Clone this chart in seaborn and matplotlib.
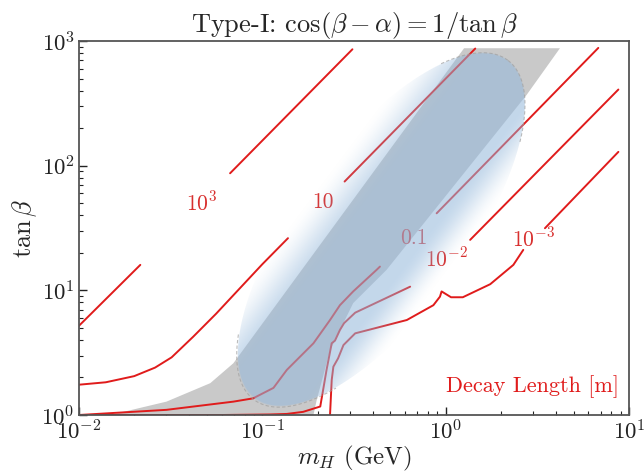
import numpy as np
import matplotlib
matplotlib.use("Agg")
import matplotlib.pyplot as plt
import seaborn as sns
import pandas as pd
from matplotlib.colors import LinearSegmentedColormap
from matplotlib.ticker import LogLocator, NullFormatter

# ---------------- data ----------------
# decay-length contours [m]; each contour is split where its label sits
c1e3_lo_x = [0.01, 0.0216]
c1e3_lo_y = [5.2, 16.0]
c1e3_hi_x = [0.0667, 0.31]
c1e3_hi_y = [86.9, 858.0]

c10_lo_x = [0.01, 0.014, 0.02, 0.026, 0.032, 0.042, 0.056, 0.075, 0.10, 0.138]
c10_lo_y = [1.75, 1.83, 2.05, 2.4, 2.9, 4.25, 6.5, 10.3, 16.2, 26.2]
c10_hi_x = [0.281, 1.45]
c10_hi_y = [74.6, 870.0]

c01_lo_x = [0.01, 0.03, 0.0695, 0.089, 0.115, 0.136, 0.19, 0.234, 0.265, 0.313, 0.42, 0.438]
c01_lo_y = [1.0, 1.10, 1.28, 1.36, 1.65, 2.30, 3.76, 5.78, 7.6, 9.8, 14.6, 15.5]
c01_hi_x = [0.893, 6.8]
c01_hi_y = [41.5, 880.0]

c1em2_lo_x = [0.01, 0.06, 0.11, 0.136, 0.167, 0.207, 0.224, 0.239, 0.249, 0.265, 0.279, 0.321, 0.64]
c1em2_lo_y = [1.0, 1.0, 1.01, 1.02, 1.06, 1.17, 2.30, 3.76, 3.95, 4.81, 5.45, 6.62, 10.7]
c1em2_hi_x = [1.36, 8.75]
c1em2_hi_y = [25.4, 408.0]

c1em3_lo_x = [0.234, 0.239, 0.244, 0.259, 0.277, 0.321, 0.614, 0.857, 0.931, 0.95, 1.07, 1.24, 1.75, 2.34, 2.65]
c1em3_lo_y = [1.0, 1.91, 2.44, 2.85, 3.64, 4.52, 5.78, 7.6, 8.9, 9.8, 8.8, 8.8, 11.2, 16.0, 21.1]
c1em3_hi_x = [3.48, 8.75]
c1em3_hi_y = [31.5, 129.0]

contour_labels = [r"$10^{3}$", "10", "0.1", r"$10^{-2}$", r"$10^{-3}$"]
label_x = [0.0467, 0.215, 0.667, 1.01, 3.0]
label_y = [50.8, 50.8, 26.2, 18.1, 26.2]

# grey excluded band (polygon: left edge upwards, then right edge downwards)
grey_x = [0.0148, 0.030, 0.052, 0.0695, 1.26, 4.2, 2.77, 0.476, 0.313, 0.234, 0.198, 0.19]
grey_y = [1.0, 1.28, 1.8, 2.6, 875.0, 875.0, 371.0, 14.6, 7.9, 3.3, 1.32, 1.0]

# blue (blurred) elliptical region: centre (GeV, tan beta), semi-axes in decades
blue_center = [0.443, 30.5]
blue_semi_decades = [1.156, 0.465]   # along major / minor axis (screen-decade units)
blue_angle_deg = 53.2

xlim = [1e-2, 1e1]
ylim = [1e0, 1e3]

# ---------------- style ----------------
sns.set_style("ticks")
plt.rcParams["font.family"] = ["cmr10", "DejaVu Serif"]
plt.rcParams["mathtext.fontset"] = "cm"
plt.rcParams["axes.unicode_minus"] = False
plt.rcParams["axes.formatter.use_mathtext"] = True

RED = "#e01b1b"
LAB_RED = "#d8302f"

fig = plt.figure(figsize=(6.44, 4.73), dpi=100)
ax = fig.add_axes([79/644, 1-415/473, 550/644, 374/473])
ax.set_xscale("log")
ax.set_yscale("log")
ax.set_xlim(*xlim)
ax.set_ylim(*ylim)

# grey band
ax.fill(grey_x, grey_y, color="#c9c9c9", lw=0, zorder=1)

# contours
segs = [(c1e3_lo_x, c1e3_lo_y), (c1e3_hi_x, c1e3_hi_y),
        (c10_lo_x, c10_lo_y), (c10_hi_x, c10_hi_y),
        (c01_lo_x, c01_lo_y), (c01_hi_x, c01_hi_y),
        (c1em2_lo_x, c1em2_lo_y), (c1em2_hi_x, c1em2_hi_y),
        (c1em3_lo_x, c1em3_lo_y), (c1em3_hi_x, c1em3_hi_y)]
for sx, sy in segs:
    df = pd.DataFrame({"m": sx, "t": sy})
    sns.lineplot(data=df, x="m", y="t", sort=False, estimator=None, ax=ax,
                 color=RED, lw=1.4, zorder=2)

for lab, lx_, ly_ in zip(contour_labels, label_x, label_y):
    ax.text(lx_, ly_, lab, color=LAB_RED, fontsize=15.5, ha="center", va="center", zorder=2.5)

# blue blurred region via pcolormesh on a log grid (work in screen pixels)
PXU = 550 / 3.0   # pixels per decade in x
PXV = 374 / 3.0   # pixels per decade in y
PXS = 183.33      # pixel scale used for the ellipse semi-axes
lgx = np.linspace(-2, 1, 551)
lgy = np.linspace(0, 3, 375)
LX, LY = np.meshgrid(lgx, lgy)
U = (LX + 2) * PXU
V = LY * PXV

cu = (np.log10(blue_center[0]) + 2) * PXU
cv = np.log10(blue_center[1]) * PXV
ea = blue_semi_decades[0] * PXS
eb = blue_semi_decades[1] * PXS
th = np.deg2rad(blue_angle_deg)
e1 = np.array([np.cos(th), np.sin(th)])
e2 = np.array([-np.sin(th), np.cos(th)])

def smooth(z):
    z = np.clip(z, 0, 1)
    return z * z * (3 - 2 * z)

def blue_alpha(U, V):
    du, dv = U - cu, V - cv
    p = du * e1[0] + dv * e1[1]
    w = du * e2[0] + dv * e2[1]
    rho = np.sqrt((p / ea) ** 2 + (w / eb) ** 2)
    inside = np.clip((1 - rho) * 120, 0, 1)
    # soft fades towards upper-left and lower-right (measured across the band)
    f_ul = smooth((0.90 * eb - w) / 50.0)
    f_lr = smooth((w + 0.92 * eb) / 40.0)
    return inside * f_ul * f_lr

A = blue_alpha(U, V)
bc = (0.58, 0.72, 0.86)
cmap = LinearSegmentedColormap.from_list("blu", [bc + (0.0,), bc + (0.56,)])
ax.pcolormesh(10**LX, 10**LY, A, cmap=cmap, vmin=0, vmax=1, shading="nearest",
              edgecolors="none", antialiased=False, zorder=3, rasterized=True)

# dashed outline of the ellipse where the blue is visible
tt = np.linspace(0, 2*np.pi, 1500)
Pu = cu + ea*np.cos(tt)*e1[0] + eb*np.sin(tt)*e2[0]
Pv = cv + ea*np.cos(tt)*e1[1] + eb*np.sin(tt)*e2[1]
inner = blue_alpha(cu + (Pu - cu) * 0.97, cv + (Pv - cv) * 0.97)
Pu_m = np.where(inner > 0.55, Pu, np.nan)
ax.plot(10**(Pu_m / PXU - 2), 10**(Pv / PXV), ls=(0, (3, 2)), color="#a0a0a0",
        lw=0.8, alpha=0.7, zorder=3.5)

ax.text(0.982, 0.075, "Decay Length [m]", transform=ax.transAxes, ha="right",
        va="center", color=RED, fontsize=16, zorder=5)

# axes cosmetics
ax.set_title(r"Type-I: $\cos(\beta-\alpha)=1/\tan\beta$", fontsize=19, pad=2)
ax.set_xlabel(r"$m_H$ (GeV)", fontsize=18, labelpad=0)
ax.set_ylabel(r"$\tan\beta$", fontsize=19, labelpad=2)
ax.xaxis.set_major_locator(LogLocator(base=10, numticks=10))
ax.yaxis.set_major_locator(LogLocator(base=10, numticks=10))
ax.xaxis.set_minor_locator(LogLocator(base=10, subs=np.arange(2, 10), numticks=20))
ax.yaxis.set_minor_locator(LogLocator(base=10, subs=np.arange(2, 10), numticks=20))
ax.xaxis.set_minor_formatter(NullFormatter())
ax.yaxis.set_minor_formatter(NullFormatter())
ax.tick_params(which="both", direction="in", top=False, right=False, colors="#222222",
               labelsize=16.5)
ax.tick_params(which="major", length=6, width=1.0, pad=3)
ax.tick_params(which="minor", length=3, width=0.8)
for sp in ax.spines.values():
    sp.set_color("#555555")
    sp.set_linewidth(1.3)
    sp.set_zorder(6)

fig.savefig("out.png", dpi=100)
